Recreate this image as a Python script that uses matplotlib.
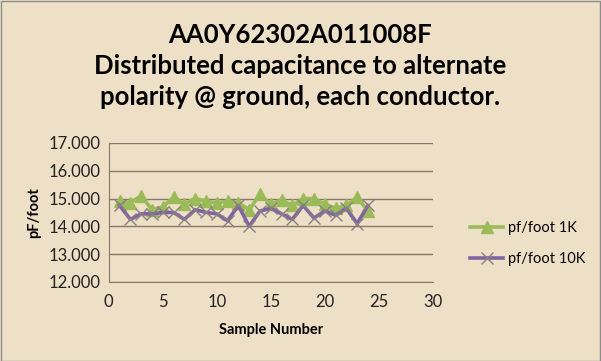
import matplotlib.pyplot as plt
from matplotlib.patches import Rectangle

# sample numbers and measured values (pF per foot)
samples = list(range(1, 25))
pf_1k = [14.90, 14.85, 15.10, 14.60, 14.70, 15.05, 14.80, 15.00, 14.90, 14.85,
         14.90, 14.85, 14.60, 15.15, 14.80, 14.95, 14.75, 15.00, 15.00, 14.80,
         14.65, 14.75, 15.05, 14.55]
pf_10k = [14.75, 14.25, 14.45, 14.45, 14.50, 14.50, 14.25, 14.60, 14.50, 14.45,
          14.20, 14.75, 14.00, 14.55, 14.65, 14.45, 14.25, 14.75, 14.30, 14.55,
          14.40, 14.65, 14.10, 14.75]
yticks = [12, 13, 14, 15, 16, 17]
xticks = [0, 5, 10, 15, 20, 25, 30]

bg = '#EEE0C6'
plt.rcParams['font.family'] = ['Lato', 'DejaVu Sans']

fig = plt.figure(figsize=(6.01, 3.61), dpi=100, facecolor=bg)
fig.patches.append(Rectangle((0.001, 0.001), 0.997, 0.996, transform=fig.transFigure,
                             fill=False, ec='#8c8c8c', lw=1))
ax = fig.add_axes([0.181, 0.219, 0.539, 0.385], facecolor=bg)

ax.plot(samples, pf_1k, color='#9BBB59', lw=2.6, marker='^', ms=9,
        mec='#9BBB59', label='pf/foot 1K')
ax.plot(samples, pf_10k, color='#8064A2', lw=2.6, marker='x', ms=8,
        mew=1.0, mec='#8a7f80', label='pf/foot 10K')

ax.set_xlim(0, 30)
ax.set_ylim(12, 17)
ax.set_xticks(xticks)
ax.set_yticks(yticks)
ax.set_yticklabels([f'{v:.3f}' for v in yticks])
ax.tick_params(length=0, labelsize=12, colors='#222222', pad=6)
ax.tick_params(axis='x', pad=9)
ax.grid(axis='y', color='#857a69', lw=1)
for s in ['top', 'right']:
    ax.spines[s].set_visible(False)
for s in ['left', 'bottom']:
    ax.spines[s].set_color('#857a69')

ax.set_xlabel('Sample Number', fontsize=10.5, fontweight='bold', labelpad=9)
ax.set_ylabel('pF/foot', fontsize=10.5, fontweight='bold', labelpad=5)

fig.text(0.5, 0.935, 'AA0Y62302A011008F\nDistributed capacitance to alternate\n'
         'polarity @ ground, each conductor.', ha='center', va='top',
         fontsize=18.5, fontweight='bold', linespacing=1.33)

fig.legend(loc='center left', bbox_to_anchor=(0.76, 0.326), frameon=False,
           fontsize=10.5, handlelength=2.3, labelspacing=1.15, handletextpad=0.3)

fig.savefig('out.png', dpi=100, facecolor=bg)
